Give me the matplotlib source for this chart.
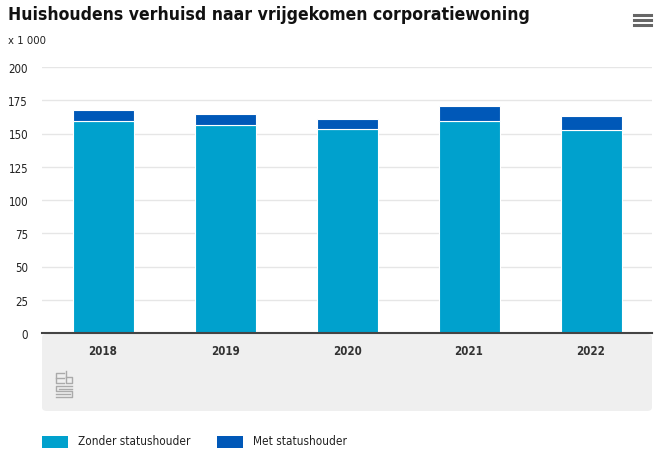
import matplotlib.pyplot as plt
from matplotlib.patches import FancyBboxPatch, Rectangle
from matplotlib.lines import Line2D

plt.rcParams['font.family'] = ['DejaVu Sans']
plt.rcParams['font.stretch'] = 'condensed'

jaren = ["2018", "2019", "2020", "2021", "2022"]
zonder = [159.5, 156.5, 153.5, 159.5, 152.5]
met = [8.5, 8.0, 7.5, 11.0, 11.0]
yticks = [0, 25, 50, 75, 100, 125, 150, 175, 200]

licht = "#00a1cd"
donker = "#0058b8"
W, H = 657, 456

fig = plt.figure(figsize=(W / 100, H / 100), dpi=100)

def fx(px):
    return px / W

def fy(py):
    return 1 - py / H

# grijs vlak onder de x-as
grijs = FancyBboxPatch((fx(42), fy(412)), fx(610), 77 / H,
                       boxstyle="round,pad=0,rounding_size=0.008",
                       transform=fig.transFigure, fc="#efefef", ec="none", zorder=-1)
fig.patches.append(grijs)

ax = fig.add_axes([fx(42), fy(334), fx(610), 266 / H])
ax.set_facecolor("none")
x = list(range(len(jaren)))
ax.bar(x, zonder, width=0.5, color=licht, edgecolor="white", linewidth=0.8, zorder=3)
ax.bar(x, met, bottom=zonder, width=0.5, color=donker, edgecolor="white", linewidth=0.8, zorder=3)

ax.set_xlim(-0.5, 4.5)
ax.set_ylim(0, 200)
ax.set_yticks(yticks)
ax.set_xticks(x)
ax.set_xticklabels(jaren, fontsize=8.3, color="#333333", fontweight="bold")
ax.tick_params(axis="x", length=0, pad=8)
ax.tick_params(axis="y", length=0, pad=10, labelsize=8.3, labelcolor="#222222")
ax.grid(axis="y", color="#e6e6e6", linewidth=1, zorder=0)
for s in ["top", "right", "left"]:
    ax.spines[s].set_visible(False)
ax.spines["bottom"].set_color("#444444")
ax.spines["bottom"].set_linewidth(1.5)
ax.spines["bottom"].set_zorder(4)

# titel en eenheid
fig.text(fx(8), fy(15), "Huishoudens verhuisd naar vrijgekomen corporatiewoning",
         fontsize=12.6, fontweight="bold", color="#111111", va="center", ha="left")
fig.text(fx(8), fy(41), "x 1 000", fontsize=8.1, color="#222222", va="center", ha="left")

# menu-icoon
for py in [16, 21, 26]:
    fig.add_artist(Line2D([fx(634), fx(651)], [fy(py), fy(py)], color="#666666",
                          linewidth=2.2, transform=fig.transFigure))

# cbs-logo (benadering)
logo = [
    [(64, 374), (56, 374), (56, 384), (64, 384)],
    [(56, 379), (64, 379)],
    [(66, 372), (66, 384), (72, 384), (72, 378), (66, 378)],
    [(72, 387), (56, 387), (56, 392), (72, 392), (72, 398), (56, 398)],
    [(72, 389.5), (58.5, 389.5)],
    [(70, 395), (56, 395)],
]
for pts in logo:
    xs = [fx(p[0]) for p in pts]
    ys = [fy(p[1]) for p in pts]
    fig.add_artist(Line2D(xs, ys, color="#aaaaaa", linewidth=1.0, transform=fig.transFigure))

# legenda
for px, tekst, kleur in [(42, "Zonder statushouder", licht), (217, "Met statushouder", donker)]:
    fig.patches.append(Rectangle((fx(px), fy(449)), fx(26), 12 / H,
                                 transform=fig.transFigure, fc=kleur, ec="none"))
    fig.text(fx(px + 36), fy(442), tekst, fontsize=8.5, color="#222222", va="center", ha="left")

fig.savefig("out.png", dpi=100)
